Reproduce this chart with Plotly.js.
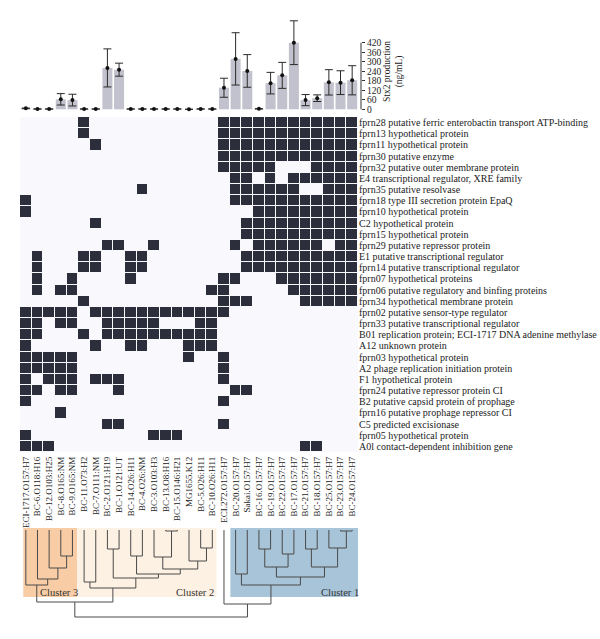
<!DOCTYPE html>
<html><head><meta charset="utf-8">
<script src="https://cdn.plot.ly/plotly-3.0.1.min.js"></script>
<style>html,body{margin:0;padding:0;background:#fff;}#chart{width:600px;height:639px;}</style>
</head><body><div id="chart"></div>
<script>
// ---------- data ----------
const colLabels = ["ECI-1717.O157:H7","BC-6.O118:H16","BC-12.O103:H25","BC-8.O165:NM","BC-9.O165:NM",
  "BC-11.O73:H2","BC-7.O111:NM","BC-2.O121:H19","BC-1.O121:UT","BC-14.O26:H11","BC-4.O26:NM",
  "BC-3.O103:H3","BC-13.O8:H16","BC-15.O146:H21","MG1655.K12","BC-5.O26:H11","BC-10.O26:H11",
  "ECI.272.O157:H7","BC-20.O157:H7","Sakai.O157:H7","BC-16.O157:H7","BC-19.O157:H7","BC-22.O157:H7",
  "BC-17.O157:H7","BC-21.O157:H7","BC-18.O157:H7","BC-25.O157:H7","BC-23.O157:H7","BC-24.O157:H7"];

const rowLabels = ["fprn28 putative ferric enterobactin transport ATP-binding","fprn13 hypothetical protein",
  "fprn11 hypothetical protein","fprn30 putative enzyme","fprn32 putative outer membrane protein",
  "E4 transcriptional regulator, XRE family","fprn35 putative resolvase","fprn18 type III secretion protein EpaQ",
  "fprn10 hypothetical protein","C2 hypothetical protein","fprn15 hypothetical protein",
  "fprn29 putative repressor protein","E1 putative transcriptional regulator","fprn14 putative transcriptional regulator",
  "fprn07 hypothetical proteins","fprn06 putative regulatory and binfing proteins","fprn34 hypothetical membrane protein",
  "fprn02 putative sensor-type regulator","fprn33 putative transcriptional regulator",
  "B01 replication protein; ECI-1717 DNA adenine methylase","A12 unknown protein","fprn03 hypothetical protein",
  "A2 phage replication initiation protein","F1 hypothetical protein","fprn24 putative repressor protein CI",
  "B2 putative capsid protein of prophage","fprn16 putative prophage repressor CI","C5 predicted excisionase",
  "fprn05 hypothetical protein","A0l contact-dependent inhibition gene"];

// columns (strain index) where each gene row is present
const presentCols = [
  [5,17,18,19,20,21,22,23,24,25,26,27,28],
  [5,17,18,19,20,21,22,23,24,25,26,27,28],
  [6,17,18,19,20,21,22,23,24,25,26,27,28],
  [17,18,19,20,21,22,23,24,25,26,27,28],
  [17,18,19,20,21,25,26,27,28],
  [18,19,21,23,24,25,26,27,28],
  [10,18,19,20,21,22,23,26,27,28],
  [0,18,19,20,21,22,23,24,25,26,27,28],
  [0,20,21,22,23,24,25,26,27,28],
  [6,19,20,21,22,23,24,25,26,27,28],
  [19,20,21,22,23,24,25,26,27,28],
  [7,8,11,18,20,21,22,23,24,25,27,28],
  [1,5,6,9,10,19,20,21,22,23,24,25,26,27,28],
  [1,5,6,9,10,19,20,21,22,23,24,25,26,27,28],
  [1,4,9,17,18,22,23,24,25,26,27,28],
  [1,3,4,16,17,23,24,25,26,27,28],
  [5,17,18,19,24,25,26,27,28],
  [0,1,2,3,4,6,7,8,9,10,11,12,13,14,15,16,17],
  [0,1,3,4,7,8,9,10,11,15,16],
  [0,1,5,7,8,9,10,11,12,13,14,15,16],
  [0,6,9,10,14,15,16],
  [0,1,2,3,4,14,17],
  [0,1,2,3,4,17],
  [0,2,3,4,6,7,8,17],
  [0,1,3,4,8,18,19],
  [0,17],
  [3],
  [7,8,17],
  [0,11,12,13],
  [0,1,2,24,25]
];

// Stx2 production (ng/mL): mean and error
const stxMean = [6,2,2,63,58,2,2,261,250,2,2,2,2,2,0,2,2,136,318,242,3,165,214,420,58,70,170,168,183];
const stxErr  = [2,1,1,36,37,1,1,120,41,1,1,1,1,1,0,1,1,60,165,103,1,68,82,138,35,21,80,75,92];
const stxTicks = [0,60,120,180,240,300,360,420];

// dendrogram merges: [childA, childB, height]; leaves 0..28, new nodes numbered from 29
const merges = [
  [3,4,26],[2,29,38],[1,30,49],[0,31,55],
  [5,6,52],[7,8,19],[9,10,26],[12,13,1],[11,36,27],[15,16,18],[14,38,31],[37,39,39],[35,40,44],[34,41,48],[33,42,58],
  [32,43,72],
  [18,19,44],[20,21,19],[22,23,24],[46,47,37],[24,25,19],[27,28,1],[26,50,18],[49,51,37],[48,52,47],[45,53,55],
  [17,54,74],[44,55,87]
];
const clusterNames = ["Cluster 3","Cluster 2","Cluster 1"];

// ---------- build ----------
const W = 600, H = 639;
const px = x => x / W;
const py = y => 1 - y / H;
const nC = colLabels.length, nR = rowLabels.length;
const idxC = colLabels.map((_, i) => i);
const idxR = rowLabels.map((_, i) => i);

const z = rowLabels.map((_, r) => idxC.map(c => presentCols[r].includes(c) ? 1 : 0));

// dendrogram coordinates
const nodeX = idxC.slice(), nodeH = idxC.map(() => 0);
const dx = [], dy = [];
merges.forEach(([a, b, h]) => {
  dx.push(nodeX[a], nodeX[a], nodeX[b], nodeX[b], null);
  dy.push(nodeH[a], h, h, nodeH[b], null);
  nodeX.push((nodeX[a] + nodeX[b]) / 2);
  nodeH.push(h);
});

const heatDomX = [px(20), px(358)];
const fontFam = "Liberation Serif, Times New Roman, serif";

const traces = [
  {type: 'heatmap', z: z, x: idxC, y: idxR, zmin: 0, zmax: 1, showscale: false,
   colorscale: [[0, '#f8f8fd'], [1, '#2d2e3c']], xgap: 1, ygap: 1, hoverinfo: 'skip'},
  {type: 'bar', x: idxC, y: stxMean, xaxis: 'x2', yaxis: 'y2', width: 0.86,
   marker: {color: '#c2c2ce'}, hoverinfo: 'skip'},
  {type: 'scatter', mode: 'markers', x: idxC, y: stxMean, xaxis: 'x2', yaxis: 'y2',
   marker: {size: 4, color: '#111'},
   error_y: {type: 'data', array: stxErr, visible: true, color: '#2a2a2a', thickness: 1, width: 4},
   hoverinfo: 'skip'},
  {type: 'scatter', mode: 'lines', x: dx, y: dy, xaxis: 'x3', yaxis: 'y3',
   line: {color: '#4a4a4a', width: 1}, hoverinfo: 'skip', connectgaps: false}
];

const hideAx = {showgrid: false, zeroline: false, showline: false, showticklabels: false, ticks: ''};

const layout = {
  width: W, height: H, margin: {l: 0, r: 0, t: 0, b: 0},
  paper_bgcolor: '#ffffff', plot_bgcolor: 'rgba(0,0,0,0)',
  showlegend: false,
  font: {family: fontFam, size: 9.5, color: '#222'},
  xaxis: {domain: heatDomX, range: [-0.5, nC - 0.5], anchor: 'y', tickmode: 'array',
    tickvals: idxC, ticktext: colLabels, tickangle: -90, showgrid: false, zeroline: false,
    showline: false, ticks: '', ticklabelstandoff: 2, tickfont: {size: 9}},
  yaxis: {domain: [py(452), py(117)], range: [nR - 0.5, -0.5], anchor: 'x', side: 'right',
    tickmode: 'array', tickvals: idxR, ticktext: rowLabels, showgrid: false, zeroline: false,
    showline: false, ticks: '', ticklabelstandoff: 0, tickfont: {size: 10}},
  xaxis2: Object.assign({domain: heatDomX, range: [-0.5, nC - 0.5], anchor: 'y2'}, hideAx),
  yaxis2: {domain: [py(112), py(2)], range: [-17, 676.7], anchor: 'free', position: px(361),
    side: 'right', tickmode: 'array', tickvals: stxTicks, ticks: 'outside', ticklen: 3,
    tickcolor: '#333', showgrid: false, zeroline: false, showline: false, tickfont: {size: 9.5}},
  xaxis3: Object.assign({domain: heatDomX, range: [-0.5, nC - 0.5], anchor: 'y3'}, hideAx),
  yaxis3: Object.assign({domain: [py(620), py(528)], range: [90, -2], anchor: 'x3'}, hideAx),
  shapes: [
    {type: 'rect', xref: 'x', yref: 'y', x0: -0.5, x1: nC - 0.5, y0: -0.5, y1: nR - 0.5,
     fillcolor: '#f8f8fd', line: {width: 0}, layer: 'below'},
    {type: 'rect', xref: 'x3', yref: 'y3', x0: -0.22, x1: 4.41, y0: -2, y1: 67,
     fillcolor: '#f8cda6', line: {width: 0}, layer: 'below'},
    {type: 'rect', xref: 'x3', yref: 'y3', x0: 4.41, x1: 16.36, y0: -2, y1: 67,
     fillcolor: '#fdf1e4', line: {width: 0}, layer: 'below'},
    {type: 'rect', xref: 'x3', yref: 'y3', x0: 17.55, x1: 28.8, y0: -2, y1: 67,
     fillcolor: '#a8c4d8', line: {width: 0}, layer: 'below'},
    {type: 'line', xref: 'paper', yref: 'y2', x0: px(361), x1: px(361), y0: 0, y1: 420,
     line: {color: '#333', width: 1}}
  ],
  annotations: [
    {xref: 'paper', yref: 'paper', x: px(59), y: py(592), text: clusterNames[0], showarrow: false,
     xanchor: 'center', yanchor: 'middle', font: {size: 10.5, color: '#333'}},
    {xref: 'paper', yref: 'paper', x: px(216), y: py(592), text: clusterNames[1], showarrow: false,
     xanchor: 'right', yanchor: 'middle', font: {size: 10.5, color: '#333'}},
    {xref: 'paper', yref: 'paper', x: px(361), y: py(592), text: clusterNames[2], showarrow: false,
     xanchor: 'right', yanchor: 'middle', font: {size: 10.5, color: '#333'}},
    {xref: 'paper', yref: 'paper', x: px(394), y: py(72), text: 'Stx2 production<br>(ng/mL)',
     showarrow: false, textangle: -90, xanchor: 'center', yanchor: 'middle',
     font: {size: 9.5, color: '#222'}}
  ]
};

Plotly.newPlot('chart', traces, layout, {displayModeBar: false, staticPlot: true});
</script>
</body></html>
